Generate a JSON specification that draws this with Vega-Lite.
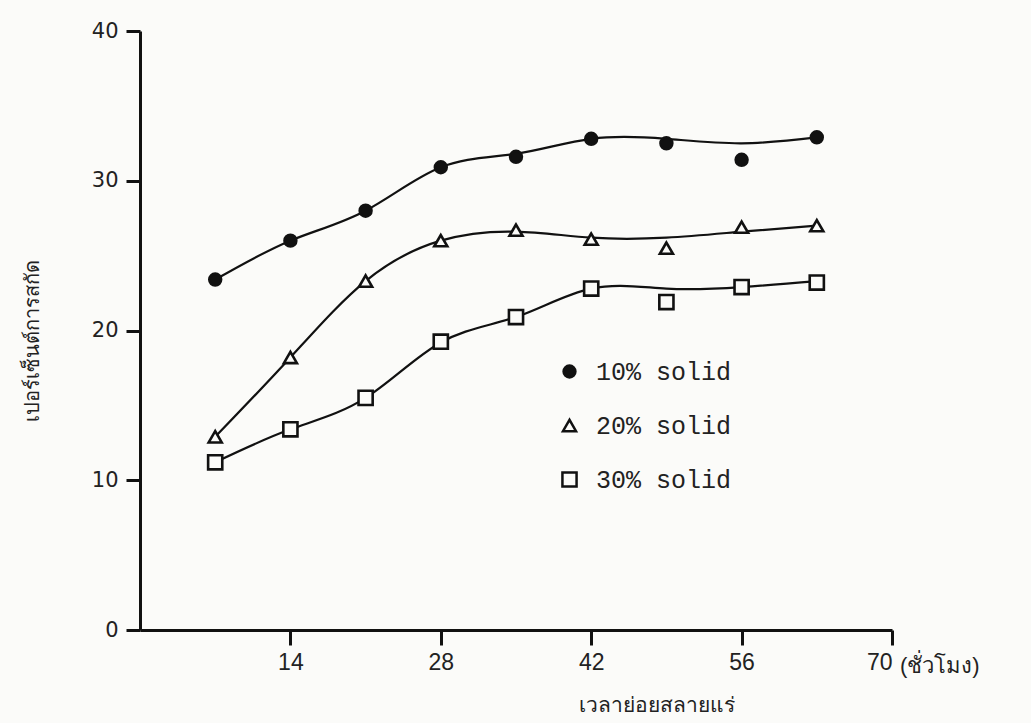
{
  "$schema": "https://vega.github.io/schema/vega-lite/v6.json",
  "autosize": {"type": "none"},
  "padding": {"left": 140, "top": 31, "right": 139, "bottom": 93},
  "width": 752,
  "height": 599,
  "background": "#fbfbf9",
  "config": {
    "view": {"stroke": null},
    "font": "Liberation Sans",
    "legend": {
      "orient": "none",
      "legendX": 417,
      "legendY": 328,
      "labelFont": "Liberation Mono",
      "labelFontSize": 25,
      "labelColor": "#222",
      "labelOffset": 14,
      "rowPadding": 28,
      "symbolStrokeColor": "#111",
      "symbolStrokeWidth": 2.5
    }
  },
  "datasets": {
    "points": [
      {"hours": 7, "pct": 23.4, "series": "10% solid"},
      {"hours": 14, "pct": 26.0, "series": "10% solid"},
      {"hours": 21, "pct": 28.0, "series": "10% solid"},
      {"hours": 28, "pct": 30.9, "series": "10% solid"},
      {"hours": 35, "pct": 31.6, "series": "10% solid"},
      {"hours": 42, "pct": 32.8, "series": "10% solid"},
      {"hours": 49, "pct": 32.5, "series": "10% solid"},
      {"hours": 56, "pct": 31.4, "series": "10% solid"},
      {"hours": 63, "pct": 32.9, "series": "10% solid"},
      {"hours": 7, "pct": 12.9, "series": "20% solid"},
      {"hours": 14, "pct": 18.2, "series": "20% solid"},
      {"hours": 21, "pct": 23.3, "series": "20% solid"},
      {"hours": 28, "pct": 26.0, "series": "20% solid"},
      {"hours": 35, "pct": 26.7, "series": "20% solid"},
      {"hours": 42, "pct": 26.1, "series": "20% solid"},
      {"hours": 49, "pct": 25.5, "series": "20% solid"},
      {"hours": 56, "pct": 26.9, "series": "20% solid"},
      {"hours": 63, "pct": 27.0, "series": "20% solid"},
      {"hours": 7, "pct": 11.2, "series": "30% solid"},
      {"hours": 14, "pct": 13.4, "series": "30% solid"},
      {"hours": 21, "pct": 15.5, "series": "30% solid"},
      {"hours": 28, "pct": 19.25, "series": "30% solid"},
      {"hours": 35, "pct": 20.9, "series": "30% solid"},
      {"hours": 42, "pct": 22.8, "series": "30% solid"},
      {"hours": 49, "pct": 21.9, "series": "30% solid"},
      {"hours": 56, "pct": 22.9, "series": "30% solid"},
      {"hours": 63, "pct": 23.2, "series": "30% solid"}
    ],
    "curve": [
      {"hours": 7, "pct": 23.4, "series": "10% solid"},
      {"hours": 14, "pct": 26.0, "series": "10% solid"},
      {"hours": 21, "pct": 28.0, "series": "10% solid"},
      {"hours": 28, "pct": 30.9, "series": "10% solid"},
      {"hours": 35, "pct": 31.8, "series": "10% solid"},
      {"hours": 42, "pct": 32.8, "series": "10% solid"},
      {"hours": 49, "pct": 32.8, "series": "10% solid"},
      {"hours": 56, "pct": 32.5, "series": "10% solid"},
      {"hours": 63, "pct": 32.9, "series": "10% solid"},
      {"hours": 7, "pct": 12.9, "series": "20% solid"},
      {"hours": 14, "pct": 18.2, "series": "20% solid"},
      {"hours": 21, "pct": 23.3, "series": "20% solid"},
      {"hours": 28, "pct": 26.0, "series": "20% solid"},
      {"hours": 35, "pct": 26.6, "series": "20% solid"},
      {"hours": 42, "pct": 26.2, "series": "20% solid"},
      {"hours": 49, "pct": 26.2, "series": "20% solid"},
      {"hours": 56, "pct": 26.6, "series": "20% solid"},
      {"hours": 63, "pct": 27.0, "series": "20% solid"},
      {"hours": 7, "pct": 11.2, "series": "30% solid"},
      {"hours": 14, "pct": 13.4, "series": "30% solid"},
      {"hours": 21, "pct": 15.5, "series": "30% solid"},
      {"hours": 28, "pct": 19.2, "series": "30% solid"},
      {"hours": 35, "pct": 20.9, "series": "30% solid"},
      {"hours": 42, "pct": 22.8, "series": "30% solid"},
      {"hours": 49, "pct": 22.8, "series": "30% solid"},
      {"hours": 56, "pct": 22.9, "series": "30% solid"},
      {"hours": 63, "pct": 23.3, "series": "30% solid"}
    ]
  },
  "layer": [
    {
      "data": {"name": "curve"},
      "mark": {"type": "line", "interpolate": "natural", "color": "#111", "strokeWidth": 2.2},
      "encoding": {
        "x": {
          "field": "hours", "type": "quantitative",
          "scale": {"domain": [0, 70], "nice": false, "zero": true},
          "axis": {
            "values": [14, 28, 42, 56, 70],
            "grid": false,
            "domainColor": "#111", "domainWidth": 3,
            "tickColor": "#111", "tickWidth": 3, "tickSize": 15,
            "labelFont": "Liberation Sans", "labelFontSize": 23, "labelColor": "#222",
            "labelPadding": 6,
            "title": "เวลาย่อยสลายแร่",
            "titleFontSize": 21, "titleFontWeight": "normal", "titleColor": "#222",
            "titleX": 516, "titleY": 75, "titleAlign": "center", "titleBaseline": "middle"
          }
        },
        "y": {
          "field": "pct", "type": "quantitative",
          "scale": {"domain": [0, 40], "nice": false},
          "axis": {
            "values": [0, 10, 20, 30, 40],
            "grid": false,
            "domainColor": "#111", "domainWidth": 3,
            "tickColor": "#111", "tickWidth": 3, "tickSize": 14,
            "labelFont": "DejaVu Sans", "labelFontSize": 21, "labelColor": "#222",
            "labelPadding": 8,
            "title": "เปอร์เซ็นต์การสกัด",
            "titleFontSize": 20, "titleFontWeight": "normal", "titleColor": "#222",
            "titleX": -108, "titleY": 309, "titleAlign": "center", "titleBaseline": "middle"
          }
        },
        "detail": {"field": "series", "type": "nominal"}
      }
    },
    {
      "data": {"name": "points"},
      "mark": {"type": "point", "filled": true, "strokeWidth": 2.6, "opacity": 1},
      "encoding": {
        "x": {"field": "hours", "type": "quantitative"},
        "y": {"field": "pct", "type": "quantitative"},
        "size": {
          "field": "series", "type": "nominal",
          "scale": {"domain": ["10% solid", "20% solid", "30% solid"], "range": [140, 200, 160]},
          "legend": {"title": null}
        },
        "shape": {
          "field": "series", "type": "nominal",
          "scale": {"domain": ["10% solid", "20% solid", "30% solid"], "range": ["circle", "triangle-up", "square"]},
          "legend": {"title": null}
        },
        "fill": {
          "field": "series", "type": "nominal",
          "scale": {"domain": ["10% solid", "20% solid", "30% solid"], "range": ["#111", "#fbfbf9", "#fbfbf9"]},
          "legend": {"title": null}
        },
        "stroke": {
          "field": "series", "type": "nominal",
          "scale": {"domain": ["10% solid", "20% solid", "30% solid"], "range": ["#111", "#111", "#111"]},
          "legend": {"title": null}
        }
      }
    },
    {
      "data": {"values": [{"unit": "(ชั่วโมง)"}]},
      "mark": {"type": "text", "align": "left", "baseline": "middle", "dx": 8, "dy": 36, "fontSize": 22, "color": "#222"},
      "encoding": {
        "x": {"datum": 70, "type": "quantitative"},
        "y": {"datum": 0, "type": "quantitative"},
        "text": {"field": "unit", "type": "nominal"}
      }
    }
  ]
}
